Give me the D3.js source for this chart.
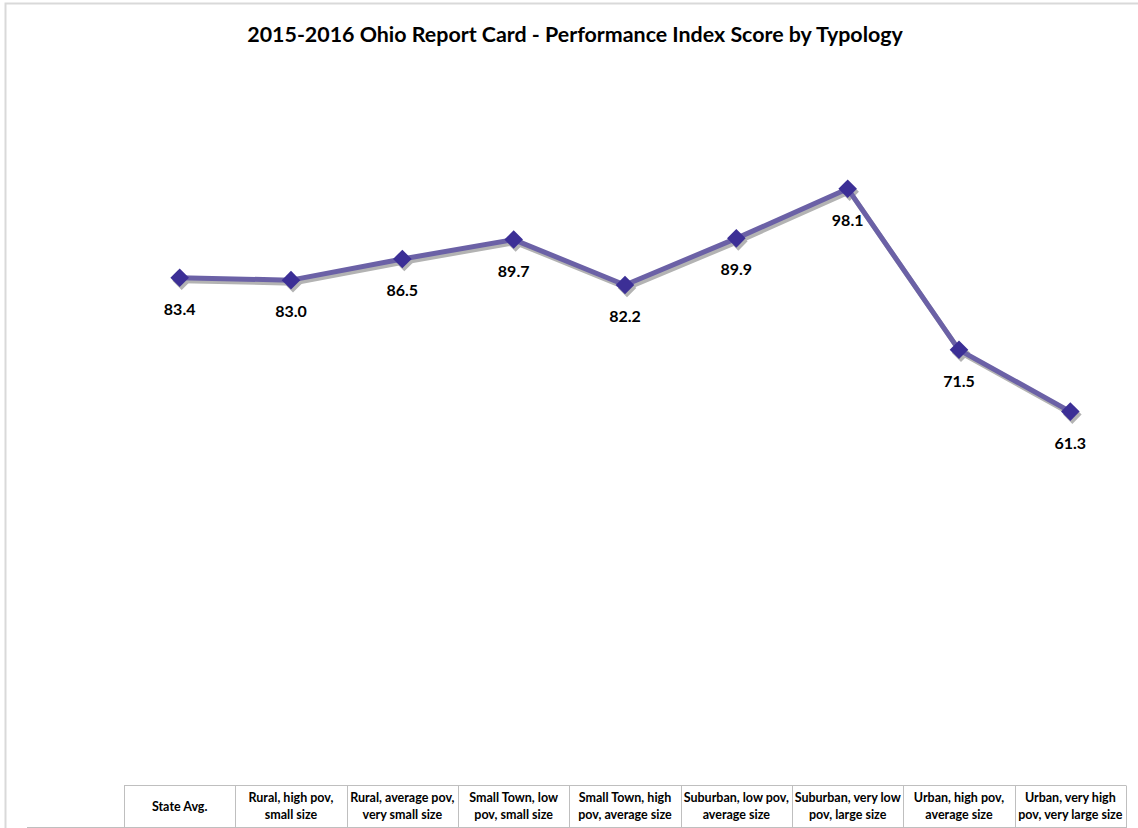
<!DOCTYPE html>
<html>
<head>
<meta charset="utf-8">
<script src="https://cdn.jsdelivr.net/npm/d3@7"></script>
<style>
  html, body { margin: 0; padding: 0; background: #fff; }
  svg { display: block; font-family: Lato, "Open Sans", sans-serif; }
  .title { font-size: 21.4px; font-weight: 700; fill: #000; }
  .value-label { font-size: 16px; font-weight: 700; fill: #000; }
  .cat-label { font-size: 12.5px; font-weight: 700; fill: #000; }
</style>
</head>
<body>
<svg id="chart" width="1138" height="828"></svg>
<script>
  const TITLE = "2015-2016 Ohio Report Card - Performance Index Score by Typology";

  const categories = [
    ["State Avg."],
    ["Rural, high pov,", "small size"],
    ["Rural, average pov,", "very small size"],
    ["Small Town, low", "pov, small size"],
    ["Small Town, high", "pov, average size"],
    ["Suburban, low pov,", "average size"],
    ["Suburban, very low", "pov, large size"],
    ["Urban, high pov,", "average size"],
    ["Urban, very high", "pov, very large size"]
  ];
  const scores = [83.4, 83.0, 86.5, 89.7, 82.2, 89.9, 98.1, 71.5, 61.3];
  const yDomain = [0, 120];

  const svg = d3.select("#chart");
  const W = 1138, H = 828;
  const plot = { left: 124, right: 1126, top: 56, bottom: 783 };

  // outer chart frame
  svg.append("path")
    .attr("d", `M5.5,${H} V3.5 H${W}`)
    .attr("fill", "none")
    .attr("stroke", "#d9d9d9")
    .attr("stroke-width", 2);

  svg.append("text")
    .attr("class", "title")
    .attr("x", 575)
    .attr("y", 42)
    .attr("text-anchor", "middle")
    .text(TITLE);

  const keys = categories.map((c, i) => i);
  const x = d3.scaleBand().domain(keys).range([plot.left, plot.right]);
  const y = d3.scaleLinear().domain(yDomain).range([plot.bottom, plot.top]);
  const cx = i => x(i) + x.bandwidth() / 2;

  // category table at the bottom
  const table = svg.append("g");
  const tableTop = 785.5;
  table.append("line")
    .attr("x1", plot.left).attr("x2", plot.right)
    .attr("y1", tableTop).attr("y2", tableTop)
    .attr("stroke", "#bfbfbf");
  table.append("line")
    .attr("x1", 27).attr("x2", plot.right)
    .attr("y1", 827.5).attr("y2", 827.5)
    .attr("stroke", "#bfbfbf");
  table.selectAll(".div")
    .data(keys.concat([keys.length]))
    .join("line")
    .attr("x1", i => Math.round(i < keys.length ? x(i) : plot.right) + 0.5)
    .attr("x2", i => Math.round(i < keys.length ? x(i) : plot.right) + 0.5)
    .attr("y1", tableTop).attr("y2", H)
    .attr("stroke", "#bfbfbf");

  table.selectAll(".cat-label")
    .data(categories)
    .join("text")
    .attr("class", "cat-label")
    .attr("text-anchor", "middle")
    .attr("x", (d, i) => cx(i))
    .attr("y", d => d.length === 1 ? 811 : 802)
    .selectAll("tspan")
    .data(d => d)
    .join("tspan")
    .attr("x", function () { return d3.select(this.parentNode).attr("x"); })
    .attr("dy", (d, i) => i === 0 ? 0 : 17)
    .text(d => d);

  const line = d3.line()
    .x((d, i) => cx(i))
    .y(d => y(d));

  const diamond = d3.symbol().type(d3.symbolDiamond2).size(220);

  // shadow
  const shadow = svg.append("g").attr("transform", "translate(2,3)");
  shadow.append("path")
    .datum(scores)
    .attr("d", line)
    .attr("fill", "none")
    .attr("stroke", "#b3b3b3")
    .attr("stroke-width", 5)
    .attr("stroke-linejoin", "round");
  shadow.selectAll("path.m")
    .data(scores)
    .join("path")
    .attr("class", "m")
    .attr("transform", (d, i) => `translate(${cx(i)},${y(d)})`)
    .attr("d", diamond)
    .attr("fill", "#b3b3b3");

  svg.append("path")
    .datum(scores)
    .attr("d", line)
    .attr("fill", "none")
    .attr("stroke", "#6b61a6")
    .attr("stroke-width", 5)
    .attr("stroke-linejoin", "round");

  svg.selectAll("path.marker")
    .data(scores)
    .join("path")
    .attr("class", "marker")
    .attr("transform", (d, i) => `translate(${cx(i)},${y(d)})`)
    .attr("d", diamond)
    .attr("fill", "#3c2f96");

  svg.selectAll(".value-label")
    .data(scores)
    .join("text")
    .attr("class", "value-label")
    .attr("text-anchor", "middle")
    .attr("x", (d, i) => cx(i))
    .attr("y", d => y(d) + 37)
    .text(d => d.toFixed(1));
</script>
</body>
</html>
